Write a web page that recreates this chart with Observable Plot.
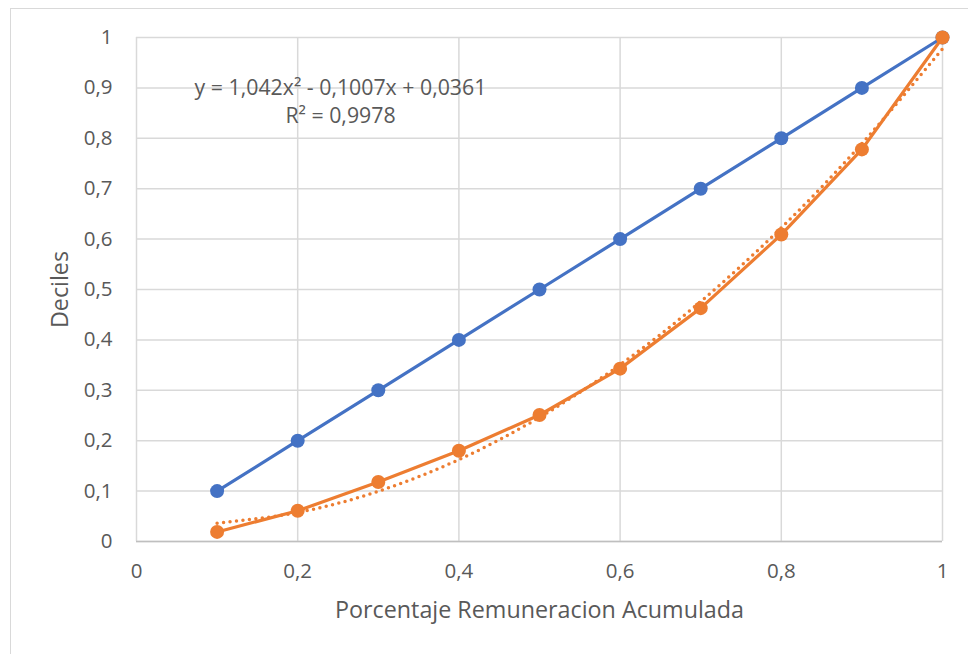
<!DOCTYPE html>
<html><head><meta charset="utf-8">
<script src="https://cdn.jsdelivr.net/npm/d3@7"></script>
<script src="https://cdn.jsdelivr.net/npm/@observablehq/plot@0.6"></script>
<style>
body{margin:0;background:#fff;overflow:hidden}
#frame{position:absolute;left:10px;top:8px;width:1000px;height:700px;border:1.5px solid #d9d9d9;box-sizing:border-box}
#chart{position:absolute;left:0;top:0}
</style></head><body>
<div id="frame"></div>
<div id="chart"></div>
<script>
const xs = [0.1,0.2,0.3,0.4,0.5,0.6,0.7,0.8,0.9,1.0];
const equality = [0.1,0.2,0.3,0.4,0.5,0.6,0.7,0.8,0.9,1.0];
const lorenz = [0.019,0.061,0.118,0.18,0.251,0.343,0.463,0.609,0.778,1.0];
const trend = [0.0364,0.0576,0.0997,0.1625,0.2463,0.3508,0.4762,0.6224,0.7895,0.9774];
const xTicks = [0,0.2,0.4,0.6,0.8,1];
const yTicks = [0,0.1,0.2,0.3,0.4,0.5,0.6,0.7,0.8,0.9,1];
const eqLabel = "y = 1,042x² - 0,1007x + 0,0361";
const r2Label = "R² = 0,9978";
const xTitle = "Porcentaje Remuneracion Acumulada";
const yTitle = "Deciles";

const blue = "#4472C4", orange = "#ED7D31", grid = "#d9d9d9", txt = "#595959";
const fmt = d => String(+d.toFixed(2)).replace(".", ",");
const rows = (vals) => xs.map((x,i)=>({x, y: vals[i]}));
const font = "'Open Sans', 'Noto Sans', sans-serif";

const plot = Plot.plot({
  width: 968, height: 654,
  marginLeft: 136, marginRight: 26, marginTop: 37, marginBottom: 113,
  style: {fontFamily: font, fontSize: "20px", color: txt, background: "transparent"},
  x: {domain: [0,1]},
  y: {domain: [0,1]},
  marks: [
    Plot.gridY(yTicks, {stroke: grid, strokeOpacity: 1, strokeWidth: 1.5}),
    Plot.gridX(xTicks, {stroke: grid, strokeOpacity: 1, strokeWidth: 1.5}),
    Plot.ruleY([0], {stroke: "#bfbfbf", strokeWidth: 1.5}),
    Plot.axisY(yTicks, {tickSize: 0, tickPadding: 24, tickFormat: fmt, label: null, fill: txt, fontSize: 20.5}),
    Plot.axisX(xTicks, {tickSize: 0, tickPadding: 22, tickFormat: fmt, label: null, fill: txt, fontSize: 20.5}),
    Plot.line(rows(trend), {x: "x", y: "y", stroke: orange, strokeWidth: 3.5, strokeDasharray: "0 6.5", strokeLinecap: "round", curve: "natural"}),
    Plot.line(rows(equality), {x: "x", y: "y", stroke: blue, strokeWidth: 3.2}),
    Plot.dot(rows(equality), {x: "x", y: "y", fill: blue, r: 7}),
    Plot.line(rows(lorenz), {x: "x", y: "y", stroke: orange, strokeWidth: 3.2}),
    Plot.dot(rows(lorenz), {x: "x", y: "y", fill: orange, r: 7}),
    Plot.text([eqLabel], {frameAnchor: "top-left", textAnchor: "middle", lineAnchor: "middle", dx: 204, dy: 51, fill: txt, fontSize: 21.3}),
    Plot.text([r2Label], {frameAnchor: "top-left", textAnchor: "middle", lineAnchor: "middle", dx: 204, dy: 79, fill: txt, fontSize: 21.3}),
    Plot.text([xTitle], {frameAnchor: "bottom", lineAnchor: "middle", dy: 69, fill: txt, fontSize: 23.3}),
    Plot.text([yTitle], {frameAnchor: "left", textAnchor: "middle", lineAnchor: "middle", dx: -76, rotate: -90, fill: txt, fontSize: 23.3})
  ]
});
document.getElementById("chart").appendChild(plot);
</script>
</body></html>
